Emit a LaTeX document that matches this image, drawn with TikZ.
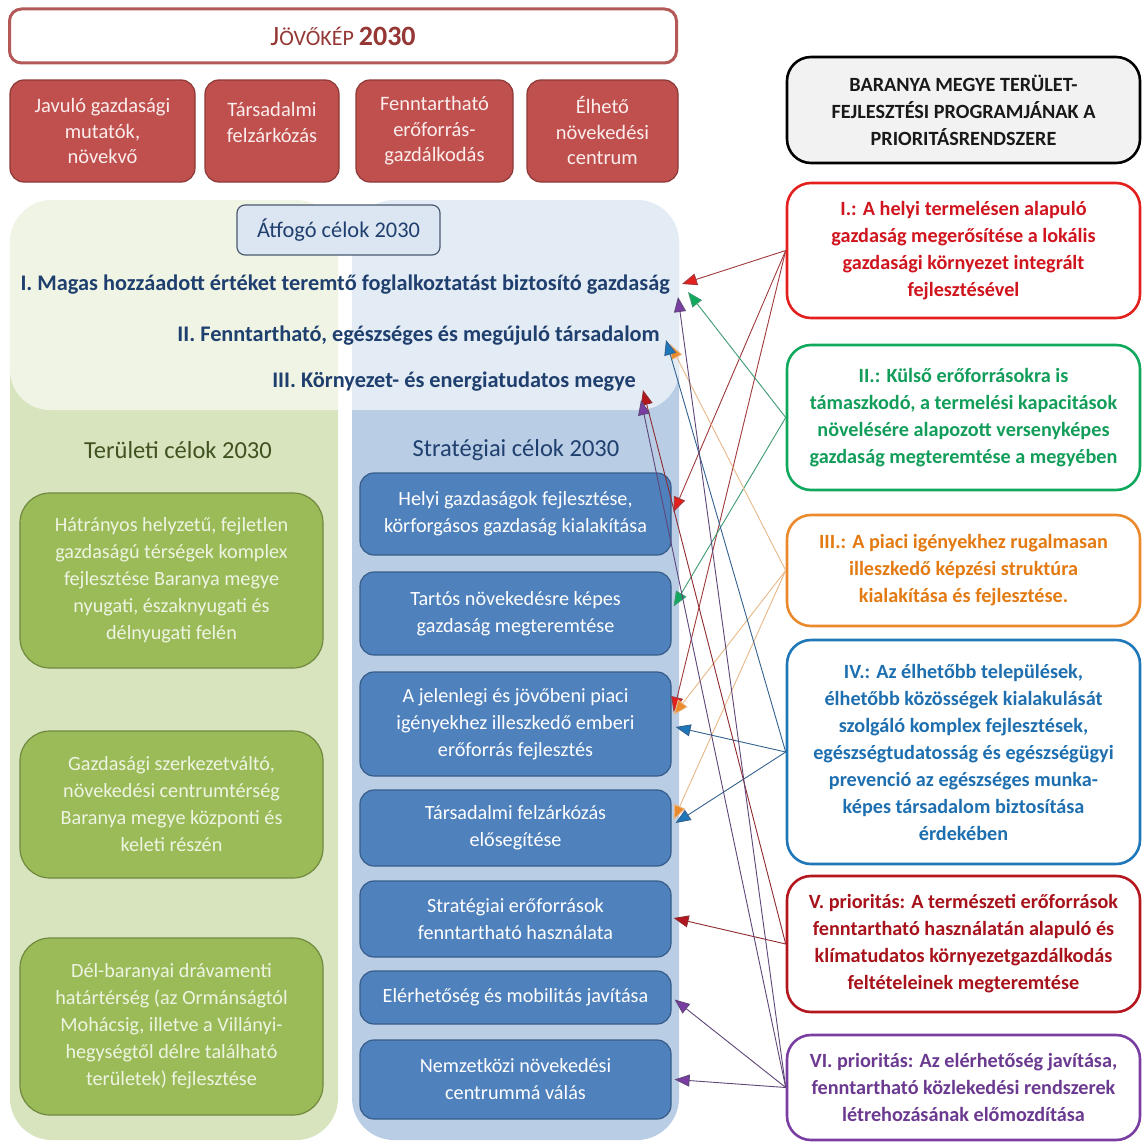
\documentclass[tikz,border=0pt]{standalone}
\usepackage{fontspec}
\setmainfont{Carlito}
\usetikzlibrary{arrows.meta}
\newcommand\setfs[2]{\fontsize{#1}{#2}\selectfont}
\definecolor{visBorder}{HTML}{B35A58}
\definecolor{visText}{HTML}{953735}
\definecolor{topRed}{HTML}{C0504D}
\definecolor{topRedBorder}{HTML}{8C3836}
\definecolor{topRedText}{HTML}{FBEDED}
\definecolor{colGreen}{HTML}{D7E4BD}
\definecolor{colBlue}{HTML}{B9CDE5}
\definecolor{atfFill}{HTML}{DCE6F2}
\definecolor{atfBorder}{HTML}{4A5A70}
\definecolor{navy}{HTML}{1F3F6E}
\definecolor{olive}{HTML}{3F5220}
\definecolor{grBox}{HTML}{9BBB59}
\definecolor{grBorder}{HTML}{71893F}
\definecolor{grText}{HTML}{EEF4E2}
\definecolor{blBox}{HTML}{4F81BD}
\definecolor{blBorder}{HTML}{385D8A}
\definecolor{cI}{HTML}{E3201E}
\definecolor{cIt}{HTML}{D0151E}
\definecolor{cIl}{HTML}{A03A3C}
\definecolor{cII}{HTML}{10A85C}
\definecolor{cIIt}{HTML}{129E5A}
\definecolor{cIIl}{HTML}{3E9A70}
\definecolor{cIII}{HTML}{EA8A2C}
\definecolor{cIIIt}{HTML}{E37A12}
\definecolor{cIIIl}{HTML}{E9B888}
\definecolor{cIV}{HTML}{1E77B8}
\definecolor{cIVt}{HTML}{1E6FB0}
\definecolor{cIVl}{HTML}{33628E}
\definecolor{cV}{HTML}{B3161D}
\definecolor{cVt}{HTML}{A8121A}
\definecolor{cVl}{HTML}{8E2A30}
\definecolor{cVI}{HTML}{7A3EA2}
\definecolor{cVIt}{HTML}{6B3A90}
\definecolor{cVIl}{HTML}{5E4678}
\tikzset{
  redtop/.style={draw=topRedBorder, fill=topRed, line width=1.2pt, rounded corners=14pt,
    text=topRedText, align=center, font=\setfs{20.5}{25.5}, inner sep=0pt, minimum height=102pt},
  greenbox/.style={draw=grBorder, fill=grBox, line width=1.2pt, rounded corners=30pt,
    text=grText, align=center, font=\setfs{20.2}{27}, inner sep=0pt, minimum width=303pt},
  bluebox/.style={draw=blBorder, fill=blBox, line width=1.2pt, rounded corners=14pt,
    text=white, align=center, font=\setfs{20.2}{27}, inner sep=0pt, minimum width=311pt},
  prio/.style={line width=2.6pt, rounded corners=24pt, fill=white, align=center,
    font=\bfseries\setfs{20.2}{27}, inner sep=0pt, minimum width=353pt},
  goal/.style={text=navy, font=\bfseries\setfs{22.3}{26}, inner sep=0pt},
  conn/.style={line width=0.9pt, -{Triangle[length=15pt,width=12pt,fill=#1]}},
}
\begin{document}
\begin{tikzpicture}[x=1pt,y=-1pt]
\useasboundingbox (0,0) rectangle (1143,1148);
\fill[white] (0,0) rectangle (1143,1148);
% columns
\fill[colGreen, rounded corners=42pt] (10,200) rectangle (338,1140);
\fill[colBlue, rounded corners=42pt] (352,200) rectangle (679,1140);
\fill[white, opacity=0.6, rounded corners=40pt] (10,200) rectangle (679,410);
% vision
\node[draw=visBorder, line width=3pt, rounded corners=12pt, fill=white,
  minimum width=667pt, minimum height=54pt, inner sep=0pt, text=visText] (vision) at (343,36)
  {\setfs{28}{30}J\setfs{22}{30}ÖVŐKÉP \setfs{28}{30}\bfseries 2030};
\node[redtop, minimum width=185pt] (v1) at (102.5,131) {Javuló gazdasági\\mutatók,\\növekvő};
\node[redtop, minimum width=134pt] (v2) at (272,131) {};
\node[text=topRedText, align=center, font=\setfs{20.5}{25.5}, inner sep=0pt] (v2t) at (v2) [yshift=8.5pt] {Társadalmi\\felzárkózás};
\node[redtop, minimum width=157pt] (v3) at (434.5,131) {Fenntartható\\erőforrás-\\gazdálkodás};
\node[redtop, minimum width=151pt] (v4) at (602.5,131) {Élhető\\növekedési\\centrum};
% overarching goals
\node[draw=atfBorder, fill=atfFill, line width=1.2pt, rounded corners=8pt,
  minimum width=203pt, minimum height=50pt, inner sep=0pt, text=navy, font=\setfs{22.4}{26}] (atf) at (338.5,230) {Átfogó célok 2030};
\node[goal, anchor=east] (lineI) at (670,285) {I. Magas hozzáadott értéket teremtő foglalkoztatást biztosító gazdaság};
\node[goal, anchor=east] (lineII) at (660,336) {II. Fenntartható, egészséges és megújuló társadalom};
\node[goal, anchor=east] (lineIII) at (636,382) {III. Környezet- és energiatudatos megye};
% headings
\node[text=olive, font=\setfs{24.5}{28}] (hTer) at (178,450) {Területi célok 2030};
\node[text=navy, font=\setfs{24.5}{28}] (hStr) at (516,450) {Stratégiai célok 2030};
% green boxes
\node[greenbox, minimum height=175pt] (g1) at (171.5,580.5) {Hátrányos helyzetű, fejletlen\\gazdaságú térségek komplex\\fejlesztése Baranya megye\\nyugati, északnyugati és\\délnyugati felén};
\node[greenbox, minimum height=147pt] (g2) at (171.5,804.5) {Gazdasági szerkezetváltó,\\növekedési centrumtérség\\Baranya megye központi és\\keleti részén};
\node[greenbox, minimum height=177pt] (g3) at (171.5,1026.5) {Dél-baranyai drávamenti\\határtérség (az Ormánságtól\\Mohácsig, illetve a Villányi-\\hegységtől délre található\\területek) fejlesztése};
% blue boxes
\node[bluebox, minimum height=82pt] (b1) at (515.5,514) {Helyi gazdaságok fejlesztése,\\körforgásos gazdaság kialakítása};
\node[bluebox, minimum height=83pt] (b2) at (515.5,613.5) {Tartós növekedésre képes\\gazdaság megteremtése};
\node[bluebox, minimum height=104pt] (b3) at (515.5,724) {A jelenlegi és jövőbeni piaci\\igényekhez illeszkedő emberi\\erőforrás fejlesztés};
\node[bluebox, minimum height=76pt] (b4) at (515.5,828) {Társadalmi felzárkózás\\elősegítése};
\node[bluebox, minimum height=76pt] (b5) at (515.5,919) {Stratégiai erőforrások\\fenntartható használata};
\node[bluebox, minimum height=53pt] (b6) at (515.5,997.5) {Elérhetőség és mobilitás javítása};
\node[bluebox, minimum height=79pt] (b7) at (515.5,1079.5) {Nemzetközi növekedési\\centrummá válás};
% priority boxes
\node[prio, draw=black, fill=black!5, text=black!90, minimum height=106pt] (title) at (963.5,110) {BARANYA MEGYE TERÜLET-\\FEJLESZTÉSI PROGRAMJÁNAK A\\PRIORITÁSRENDSZERE};
\node[prio, draw=cI, text=cIt, minimum height=135pt] (pI) at (963.5,250.5) {I.: A helyi termelésen alapuló\\gazdaság megerősítése a lokális\\gazdasági környezet integrált\\fejlesztésével};
\node[prio, draw=cII, text=cIIt, minimum height=145pt] (pII) at (963.5,417.5) {II.: Külső erőforrásokra is\\támaszkodó, a termelési kapacitások\\növelésére alapozott versenyképes\\gazdaság megteremtése a megyében};
\node[prio, draw=cIII, text=cIIIt, minimum height=111pt] (pIII) at (963.5,570.5) {III.: A piaci igényekhez rugalmasan\\illeszkedő képzési struktúra\\kialakítása és fejlesztése.};
\node[prio, draw=cIV, text=cIVt, minimum height=224pt] (pIV) at (963.5,752) {IV.: Az élhetőbb települések,\\élhetőbb közösségek kialakulását\\szolgáló komplex fejlesztések,\\egészségtudatosság és egészségügyi\\prevenció az egészséges munka-\\képes társadalom biztosítása\\érdekében};
\node[prio, draw=cV, text=cVt, minimum height=136pt] (pV) at (963.5,944) {V. prioritás: A természeti erőforrások\\fenntartható használatán alapuló és\\klímatudatos környezetgazdálkodás\\feltételeinek megteremtése};
\node[prio, draw=cVI, text=cVIt, minimum height=105pt] (pVI) at (963.5,1087.5) {VI. prioritás: Az elérhetőség javítása,\\fenntartható közlekedési rendszerek\\létrehozásának előmozdítása};
% connectors
\draw[conn=cI, cIl] (pI.west) -- ([shift={(12,-1)}]lineI.east);
\draw[conn=cI, cIl] (pI.west) -- ([shift={(2,-2)}]b1.east);
\draw[conn=cI, cIl] (pI.west) -- ([shift={(2,-12)}]b3.east);
\draw[conn=cII, cIIl] (pII.west) -- ([shift={(18,7)}]lineI.east);
\draw[conn=cII, cIIl] (pII.west) -- ([shift={(2,-7)}]b2.east);
\draw[conn=cIII, cIIIl] (pIII.west) -- ([shift={(10,8)}]lineII.east);
\draw[conn=cIII, cIIIl] (pIII.west) -- ([shift={(2,-9)}]b3.east);
\draw[conn=cIII, cIIIl] (pIII.west) -- ([shift={(2,-8)}]b4.east);
\draw[conn=cIV, cIVl] (pIV.west) -- ([shift={(6,4)}]lineII.east);
\draw[conn=cIV, cIVl] (pIV.west) -- ([shift={(4,3)}]b3.east);
\draw[conn=cIV, cIVl] (pIV.west) -- ([shift={(4,-5)}]b4.east);
\draw[conn=cV, cVl] (pV.west) -- ([shift={(7,8)}]lineIII.east);
\draw[conn=cV, cVl] (pV.west) -- ([shift={(2,-1)}]b5.east);
\draw[conn=cVI, cVIl] (pVI.west) -- ([shift={(8,12)}]lineI.east);
\draw[conn=cVI, cVIl] (pVI.west) -- ([shift={(5,18)}]lineIII.east);
\draw[conn=cVI, cVIl] (pVI.west) -- ([shift={(3,2)}]b6.east);
\draw[conn=cVI, cVIl] (pVI.west) -- ([shift={(3,0)}]b7.east);
\end{tikzpicture}
\end{document}
